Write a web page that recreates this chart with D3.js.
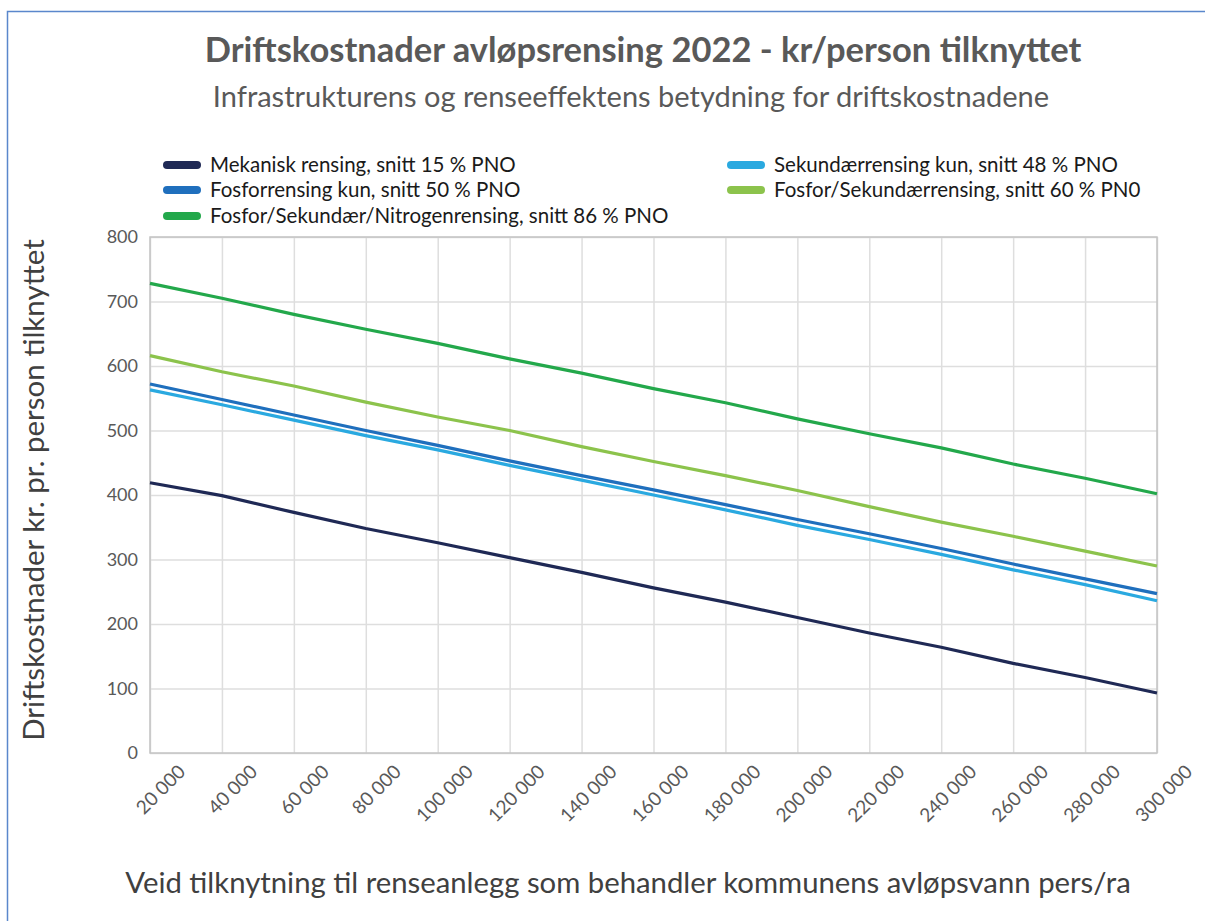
<!DOCTYPE html>
<html>
<head>
<meta charset="utf-8">
<script src="https://cdn.jsdelivr.net/npm/d3@7"></script>
<style>
  body { margin: 0; background: #fff; }
  svg { display: block; font-family: Lato, "Open Sans", sans-serif; }
</style>
</head>
<body>
<svg id="chart" width="1205" height="921"></svg>
<script>
// data
var population = [20000, 40000, 60000, 80000, 100000, 120000, 140000, 160000,
  180000, 200000, 220000, 240000, 260000, 280000, 300000];
var mekanisk     = [419, 399, 373, 348, 326, 303, 280, 256, 234, 210, 186, 164, 139, 117, 93];
var fosforKun    = [572, 548, 524, 500, 477, 453, 430, 408, 385, 362, 340, 317, 293, 270, 247];
var sekundaerKun = [563, 540, 516, 492, 470, 446, 423, 400, 377, 353, 331, 308, 284, 261, 236];
var fosforSek    = [616, 591, 569, 544, 521, 500, 475, 452, 430, 407, 382, 358, 336, 313, 290];
var fosforSekNit = [728, 705, 680, 657, 635, 611, 589, 565, 543, 518, 495, 473, 448, 426, 402];
var yTicks = [0, 100, 200, 300, 400, 500, 600, 700, 800];

var series = [
  {name: "Mekanisk rensing, snitt 15 % PNO", values: mekanisk, color: "#1f2955"},
  {name: "Fosforrensing kun, snitt 50 % PNO", values: fosforKun, color: "#1f6fbd"},
  {name: "Fosfor/Sekundær/Nitrogenrensing, snitt 86 % PNO", values: fosforSekNit, color: "#23a84b"},
  {name: "Sekundærrensing kun, snitt 48 % PNO", values: sekundaerKun, color: "#2aa9e0"},
  {name: "Fosfor/Sekundærrensing, snitt 60 % PN0", values: fosforSek, color: "#8cc34c"}
];

var svg = d3.select("#chart"),
  margin = {top: 237, right: 48, bottom: 168, left: 150},
  width = +svg.attr("width") - margin.left - margin.right,
  height = +svg.attr("height") - margin.top - margin.bottom;

// outer blue frame
svg.append("path")
  .attr("d", "M7.5,921 V11.5 H1205")
  .attr("fill", "none")
  .attr("stroke", "#5a87cc")
  .attr("stroke-width", 1.5);

var g = svg.append("g").attr("transform", "translate(" + margin.left + "," + margin.top + ")");

var x = d3.scaleLinear()
  .domain([20000, 300000])
  .range([0, width]);

var y = d3.scaleLinear()
  .domain([0, 800])
  .range([height, 0]);

// gridlines
g.append("g")
  .attr("class", "grid")
  .call(d3.axisLeft(y).tickValues(yTicks).tickSize(-width).tickFormat(""))
  .call(a => a.select(".domain").remove())
  .selectAll("line").attr("stroke", "#dedede").attr("stroke-width", 1.5);

g.append("g")
  .attr("class", "grid")
  .attr("transform", "translate(0," + height + ")")
  .call(d3.axisBottom(x).tickValues(population).tickSize(-height).tickFormat(""))
  .call(a => a.select(".domain").remove())
  .selectAll("line").attr("stroke", "#dedede").attr("stroke-width", 1.5);

// plot frame
g.append("rect")
  .attr("width", width)
  .attr("height", height)
  .attr("fill", "none")
  .attr("stroke", "#c4c4c4")
  .attr("stroke-width", 1.5);

// tick labels
var fmt = d => d3.format(",")(d).replace(/,/g, " ");

g.append("g")
  .call(d3.axisLeft(y).tickValues(yTicks).tickSize(0).tickPadding(12))
  .call(a => a.select(".domain").remove())
  .selectAll("text")
  .attr("fill", "#595959")
  .style("font-size", "18px")
  .style("font-family", "Lato, sans-serif");

g.append("g")
  .attr("transform", "translate(0," + height + ")")
  .call(d3.axisBottom(x).tickValues(population).tickSize(0).tickFormat(fmt))
  .call(a => a.select(".domain").remove())
  .selectAll("text")
  .attr("fill", "#595959")
  .style("font-size", "19px")
  .style("font-family", "Lato, sans-serif")
  .attr("text-anchor", "end")
  .attr("dy", null)
  .attr("y", 0)
  .attr("transform", "translate(36,20) rotate(-45)");

// lines
var line = d3.line()
  .x((d, i) => x(population[i]))
  .y(d => y(d));

g.append("g")
  .selectAll("path")
  .data(series)
  .enter().append("path")
  .attr("d", d => line(d.values))
  .attr("fill", "none")
  .attr("stroke", d => d.color)
  .attr("stroke-width", 3.2)
  .attr("stroke-linejoin", "round");

// titles
svg.append("text")
  .attr("x", 643)
  .attr("y", 62)
  .attr("text-anchor", "middle")
  .attr("fill", "#595959")
  .style("font-size", "34.5px")
  .style("font-weight", "bold")
  .text("Driftskostnader avløpsrensing 2022 - kr/person tilknyttet");

svg.append("text")
  .attr("x", 631)
  .attr("y", 107)
  .attr("text-anchor", "middle")
  .attr("fill", "#595959")
  .style("font-size", "29px")
  .text("Infrastrukturens og renseeffektens betydning for driftskostnadene");

svg.append("text")
  .attr("transform", "translate(44,490) rotate(-90)")
  .attr("text-anchor", "middle")
  .attr("fill", "#404040")
  .style("font-size", "29.5px")
  .text("Driftskostnader kr. pr. person tilknyttet");

svg.append("text")
  .attr("x", 628)
  .attr("y", 893)
  .attr("text-anchor", "middle")
  .attr("fill", "#404040")
  .style("font-size", "29.3px")
  .text("Veid tilknytning til renseanlegg som behandler kommunens avløpsvann pers/ra");

// legend
var legendPos = [[163, 165], [163, 190], [163, 216], [727, 165], [727, 190]];

var legend = svg.selectAll(".legend")
  .data(series)
  .enter().append("g")
  .attr("class", "legend")
  .attr("transform", (d, i) => "translate(" + legendPos[i][0] + "," + legendPos[i][1] + ")");

legend.append("line")
  .attr("x1", 4)
  .attr("x2", 34)
  .attr("stroke", d => d.color)
  .attr("stroke-width", 8)
  .attr("stroke-linecap", "round");

legend.append("text")
  .attr("x", 47)
  .attr("dy", "0.35em")
  .attr("fill", "#1a1a1a")
  .style("font-size", "20.5px")
  .text(d => d.name);
</script>
</body>
</html>
